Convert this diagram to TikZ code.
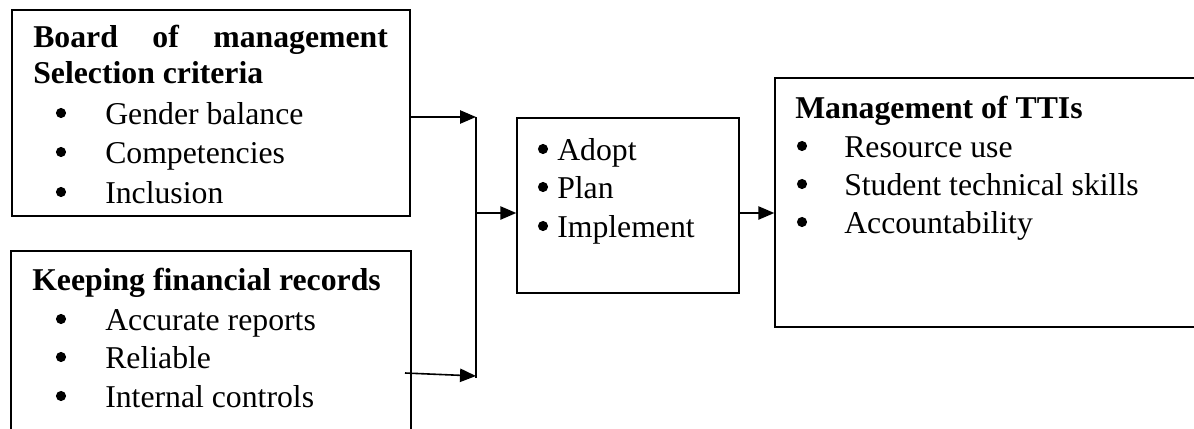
\documentclass[tikz,border=0pt]{standalone}
\usepackage{fontspec}
\setmainfont{Liberation Serif}
\usetikzlibrary{arrows.meta,fit}
\tikzset{
  box/.style={draw, line width=1.1pt, inner sep=0pt},
  txt/.style={anchor=base west, inner sep=0pt, text height=0.7em, text depth=0.2em, font=\fontsize{23.8}{28}\selectfont},
  hd/.style={txt, font=\fontsize{23.8}{28}\selectfont\bfseries},
  ln/.style={line width=1.2pt},
  arr/.style={line width=1.2pt, -{Triangle[length=12pt,width=10pt]}},
  dot/.style={circle, fill=black, draw=none, inner sep=0pt, minimum size=7.6pt}
}
\begin{document}
\begin{tikzpicture}[x=0.75pt,y=-0.75pt]
\useasboundingbox (0,0) rectangle (1194,428);
\begin{scope}
\clip (0,0) rectangle (1194,428);
% boxes
\node[box, fit={(12,10) (410,216)}] (b1) {};
\node[box, fit={(11,251) (411,445)}] (b2) {};
\node[box, fit={(517,118) (739,293)}] (mid) {};
\node[box, fit={(775,78) (1215,327)}] (res) {};
% box 1 text
\node[hd] (b1h1) at (33,48) {\makebox[266pt][s]{Board of management}};
\node[hd] (b1h2) at (33,84) {Selection criteria};
\node[txt] (b1i1) at (105,124) {Gender balance};
\node[txt] (b1i2) at (105,163) {Competencies};
\node[txt] (b1i3) at (105,203) {Inclusion};
% box 2 text
\node[hd] (b2h) at (32,290) {Keeping financial records};
\node[txt] (b2i1) at (105,330) {Accurate reports};
\node[txt] (b2i2) at (105,368) {Reliable};
\node[txt] (b2i3) at (105,407) {Internal controls};
% middle text
\node[txt] (m1) at (557,160) {Adopt};
\node[txt] (m2) at (557,198) {Plan};
\node[txt] (m3) at (557,237) {Implement};
% result text
\node[hd] (rh) at (795,118) {Management of TTIs};
\node[txt] (r1) at (844,157) {Resource use};
\node[txt] (r2) at (844,195) {Student technical skills};
\node[txt] (r3) at (844,233) {Accountability};
% bullets
\foreach \bx/\by [count=\i] in {61/113,61/152,61/192,61/319,61/357,61/396,
                     543/149,543/187,543/226,802/146,802/184,802/222}
  \node[dot] (bul\i) at (\bx,\by) {};
% connectors
\coordinate (j1) at (476,117);
\coordinate (j2) at (476,378);
\coordinate (jm) at (476,213);
\coordinate (s2) at (405,373);
\coordinate (e2) at (476,376);
\draw[ln] (j1) -- (j2);
\draw[arr] (b1.east |- j1) -- (j1);
\draw[arr] (s2) -- (e2);
\draw[arr] (jm) -- (mid.west |- jm);
\draw[arr] (mid.east |- jm) -- (res.west |- jm);
\end{scope}
\end{tikzpicture}
\end{document}
